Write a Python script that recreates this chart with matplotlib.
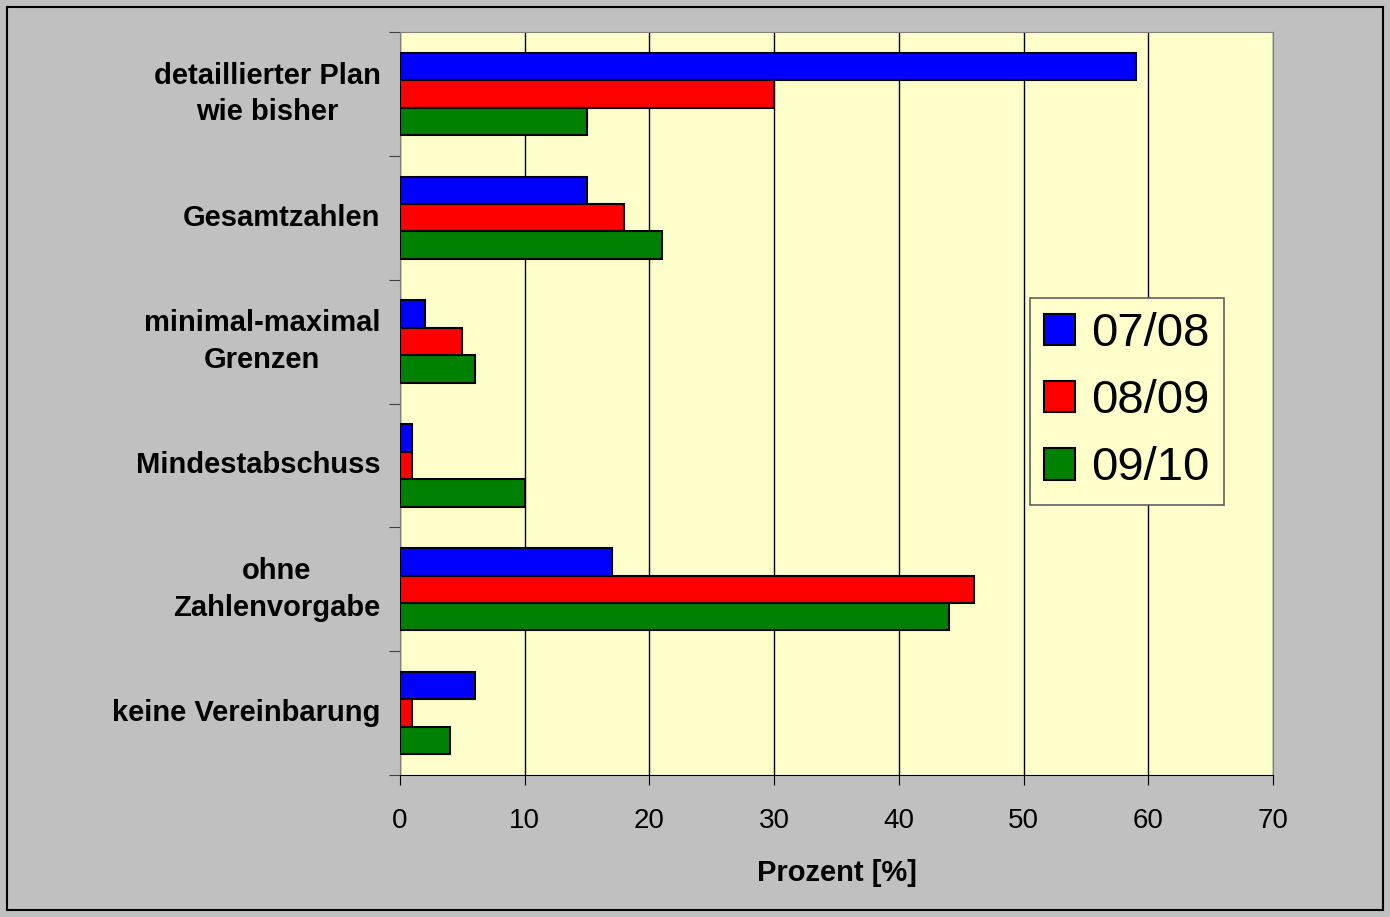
import numpy as np
import matplotlib
matplotlib.use("Agg")
import matplotlib.pyplot as plt
from matplotlib.patches import Rectangle

plt.rcParams['font.family'] = ['Liberation Sans', 'DejaVu Sans']

categories = ['detaillierter Plan\nwie bisher', 'Gesamtzahlen', 'minimal-maximal\nGrenzen',
              'Mindestabschuss', 'ohne\nZahlenvorgabe', 'keine Vereinbarung']
series = ['07/08', '08/09', '09/10']
v0708 = [59, 15, 2, 1, 17, 6]
v0809 = [30, 18, 5, 1, 46, 1]
v0910 = [15, 21, 6, 10, 44, 4]
colors = ['#0000ff', '#ff0000', '#008000']

fig = plt.figure(figsize=(13.9, 9.17), dpi=100, facecolor='#c0c0c0')
ax = fig.add_axes([400/1390, 1 - 775/917, 873/1390, 743/917])
ax.set_facecolor('#ffffcc')

# outer frame of the chart
fig.patches.append(Rectangle((7/1390, 7/917), 1376/1390, 903/917, transform=fig.transFigure,
                             fill=False, edgecolor='black', linewidth=1.5))

y = np.arange(len(categories))
h = 0.222
for i, (vals, lab, c) in enumerate(zip([v0708, v0809, v0910], series, colors)):
    ax.barh(y + (i - 1) * h, vals, height=h, color=c, edgecolor='black', linewidth=1.5,
            label=lab, zorder=3)

ax.set_xlim(0, 70)
ax.set_ylim(len(categories) - 0.5, -0.5)
ax.set_xticks(np.arange(0, 71, 10))
ax.tick_params(axis='x', labelsize=20, length=7, direction='out', pad=17)
ax.set_yticks(np.arange(len(categories) + 1) - 0.5)
ax.set_yticklabels([])
ax.tick_params(axis='y', which='major', length=8, direction='out', color='#404040')
ax.set_yticks(y, minor=True)
ax.set_yticklabels(categories, minor=True, fontsize=21, fontweight='bold',
                   multialignment='center', linespacing=1.4, va='center')
ax.tick_params(axis='y', which='minor', length=0, pad=14)
ax.grid(axis='x', color='black', linewidth=1, zorder=1)
ax.set_axisbelow(True)
for s in ['top', 'right', 'left']:
    ax.spines[s].set_color('#808080')
ax.spines['bottom'].set_color('black')

ax.set_xlabel('Prozent [%]', fontsize=21, fontweight='bold', labelpad=18)

leg = ax.legend(loc='upper left', bbox_to_anchor=(0.7217, 0.642), fontsize=34,
                frameon=True, fancybox=False, edgecolor='#606060', facecolor='#ffffcc',
                framealpha=1, handlelength=0.65, handleheight=0.65, handletextpad=0.35,
                labelspacing=0.49, borderpad=0.3, borderaxespad=0)
leg.get_frame().set_linewidth(1.2)

fig.savefig('out.png', dpi=100, facecolor=fig.get_facecolor())
